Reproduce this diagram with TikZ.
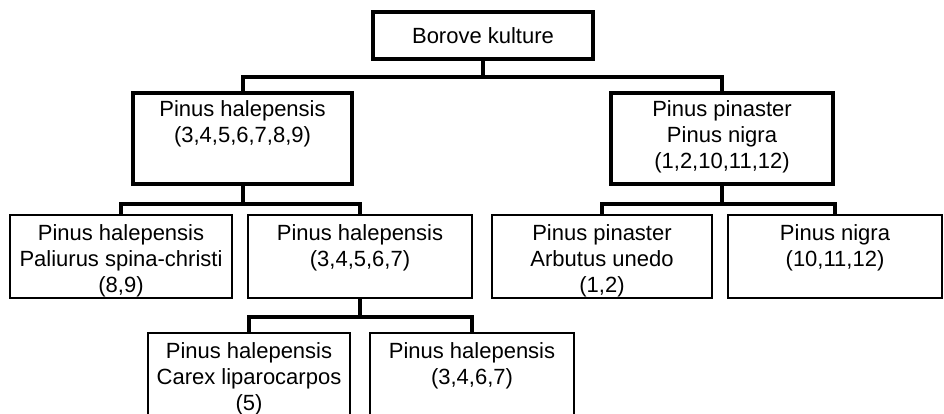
\documentclass[tikz,border=0pt]{standalone}
\usepackage{fontspec}
\setmainfont{Liberation Sans}
\usetikzlibrary{positioning}

\begin{document}
\begin{tikzpicture}[x=1pt,y=1pt,
    box/.style={rectangle,draw,line width=2pt,minimum height=83pt},
    topbox/.style={box,line width=4.5pt},
    txt/.style={align=center,inner sep=0pt,font=\fontsize{22}{26}\selectfont},
    link/.style={line width=4pt}]
    \useasboundingbox (0,0) rectangle (944,414);
    \node(root)[topbox,minimum width=220pt,minimum height=47pt,font=\fontsize{22}{26}\selectfont] at (483,378.5) {Borove kulture};
    \node(hal)[topbox,minimum width=219pt,minimum height=91pt] at (242.5,275.5) {};
    \node(halt)[txt,below=10pt of hal.north]   {Pinus halepensis\\(3,4,5,6,7,8,9)};
    \node(pin)[topbox,minimum width=222pt,minimum height=91pt] at (722,275.5) {};
    \node(pint)[txt,below=10pt of pin.north]   {Pinus pinaster\\Pinus nigra\\(1,2,10,11,12)};
    \node(pal)[box,minimum width=222pt] at (121,157.5) {};
    \node(palt)[txt,below=10pt of pal.north]   {Pinus halepensis\\Paliurus spina-christi\\(8,9)};
    \node(hl)[box,minimum width=224pt] at (360,157.5) {};
    \node(hlt)[txt,below=10pt of hl.north]   {Pinus halepensis\\(3,4,5,6,7)};
    \node(arb)[box,minimum width=220pt] at (602,157.5) {};
    \node(arbt)[txt,below=10pt of arb.north]   {Pinus pinaster\\Arbutus unedo\\(1,2)};
    \node(nig)[box,minimum width=214pt] at (835,157.5) {};
    \node(nigt)[txt,below=10pt of nig.north]   {Pinus nigra\\(10,11,12)};
    \node(car)[box,minimum width=202pt,minimum height=84pt] at (249,39) {};
    \node(cart)[txt,below=10pt of car.north]   {Pinus halepensis\\Carex liparocarpos\\(5)};
    \node(hs)[box,minimum width=204pt,minimum height=84pt] at (472,39) {};
    \node(hst)[txt,below=10pt of hs.north]   {Pinus halepensis\\(3,4,6,7)};
    % forks
    \draw[link] (root.south) -- ++(0,-16) -| (hal.north);
    \draw[link] (root.south) -- ++(0,-16) -| (pin.north);
    \draw[link] (hal.south) -- ++(0,-18) -| (pal.north);
    \draw[link] (hal.south) -- ++(0,-18) -| (hl.north);
    \draw[link] (pin.south) -- ++(0,-18) -| (arb.north);
    \draw[link] (pin.south) -- ++(0,-18) -| (nig.north);
    \draw[link] (hl.south) -- ++(0,-18) -| (car.north);
    \draw[link] (hl.south) -- ++(0,-18) -| (hs.north);
    \end{tikzpicture}
\end{document}
